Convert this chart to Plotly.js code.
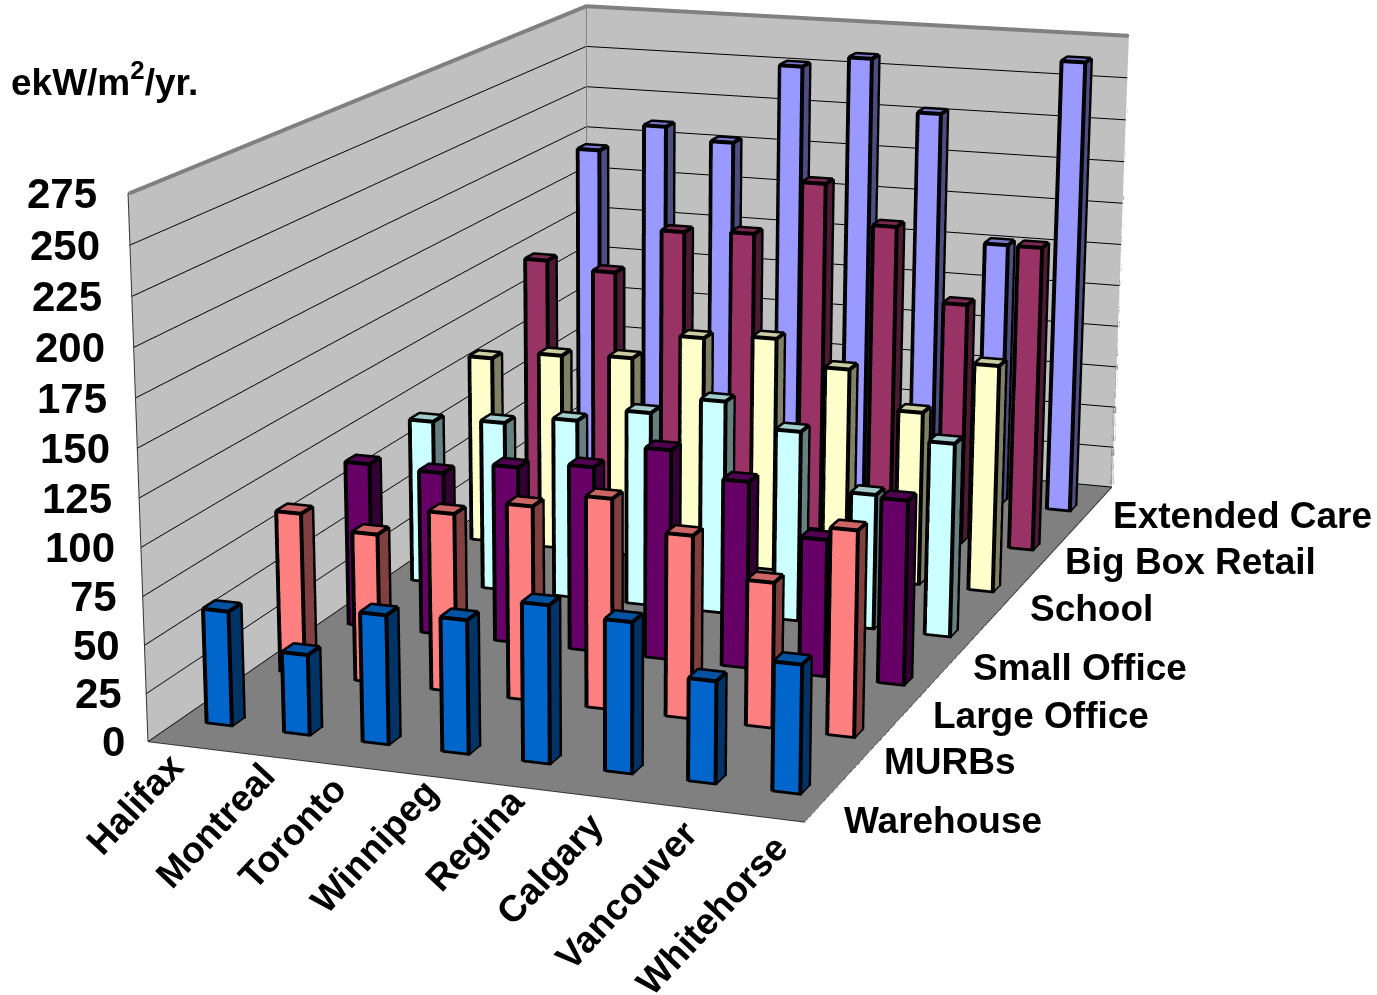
<!DOCTYPE html>
<html>
<head>
<meta charset="utf-8">
<title>Energy intensity by city and building type</title>
<script src="https://cdn.plot.ly/plotly-3.0.1.min.js"></script>
<style>
  html, body { margin: 0; padding: 0; width: 1377px; height: 995px; overflow: hidden; background: #fff; }
  #view { position: absolute; left: 0; top: 0; width: 1377px; height: 995px; overflow: hidden; }
  /* The scene is oversized and shifted so its fixed 45 degree lens behaves like a long one. */
  #chart { position: absolute; left: -143px; top: -1055px; width: 1520px; height: 3327px; }
</style>
</head>
<body>
<div id="view"><div id="chart"></div></div>
<script>
const cities = ['Halifax', 'Montreal', 'Toronto', 'Winnipeg', 'Regina', 'Calgary', 'Vancouver', 'Whitehorse'];
const buildingTypes = ['Warehouse', 'MURBs', 'Large Office', 'Small Office', 'School', 'Big Box Retail', 'Extended Care'];
const warehouse    = [60, 42, 67, 69, 81, 77, 52, 65];
const murbs        = [87, 80, 95, 103, 111, 96, 76, 107];
const largeOffice  = [91, 90, 97, 101, 114, 101, 74, 99];
const smallOffice  = [93, 96, 101, 109, 119, 106, 75, 107];
const school       = [109, 114, 116, 131, 134, 120, 99, 129];
const bigBoxRetail = [148, 144, 171, 173, 205, 183, 141, 177];
const extendedCare = [198, 215, 208, 256, 263, 233, 158, 268];
const tickValues = [0, 25, 50, 75, 100, 125, 150, 175, 200, 225, 250, 275];
const unitLabel = 'ekW/m<sup>2</sup>/yr.';

const seriesValues = [warehouse, murbs, largeOffice, smallOffice, school, bigBoxRetail, extendedCare];
const frontColors = ['#0066CC', '#FF8080', '#660066', '#CCFFFF', '#FFFFCC', '#993366', '#9999FF'];
const sideColors  = ['#003366', '#804040', '#330033', '#668080', '#808066', '#4D1A33', '#4D4D80'];
const topColors   = ['#0052A3', '#CC6666', '#520052', '#A3CCCC', '#CCCCA3', '#7A2952', '#7A7ACC'];

const BAR_HALF_X = 0.16;
const BAR_HALF_Y = 0.075;
const TEXT_FONT = 'Liberation Sans, Arial, sans-serif';

// Bars sit a little forward of their cell centres, more so in the rear rows.
const barCentreX = (col, row) => col + 0.5 + 0.025 + 0.0088 * row;
const barCentreY = row => row + 0.5 - 0.03 - 0.015 * row;

// Solid box per bar, one mesh per building type, flat coloured by face.
function barMesh(values, row, colors) {
  const x = [], y = [], z = [], i = [], j = [], k = [], facecolor = [];
  const quads = [
    [0, 1, 5, 4, colors.front], [2, 3, 7, 6, colors.front],
    [1, 2, 6, 5, colors.side],  [0, 3, 7, 4, colors.side],
    [4, 5, 6, 7, colors.top],   [0, 1, 2, 3, colors.top]
  ];
  values.forEach((v, col) => {
    const base = x.length;
    const x0 = barCentreX(col, row) - BAR_HALF_X, x1 = barCentreX(col, row) + BAR_HALF_X;
    const y0 = barCentreY(row) - BAR_HALF_Y, y1 = barCentreY(row) + BAR_HALF_Y;
    [[x0, y0, 0], [x1, y0, 0], [x1, y1, 0], [x0, y1, 0], [x0, y0, v], [x1, y0, v], [x1, y1, v], [x0, y1, v]]
      .forEach(p => { x.push(p[0]); y.push(p[1]); z.push(p[2]); });
    quads.forEach(q => {
      i.push(base + q[0], base + q[0]);
      j.push(base + q[1], base + q[2]);
      k.push(base + q[2], base + q[3]);
      facecolor.push(q[4], q[4]);
    });
  });
  return {
    type: 'mesh3d', x, y, z, i, j, k, facecolor, flatshading: true, hoverinfo: 'skip', showscale: false,
    lighting: { ambient: 1, diffuse: 0, specular: 0, fresnel: 0, roughness: 1 }
  };
}

// Black outline of every bar, nudged outward so it stays in front of the faces.
function barEdges() {
  const x = [], y = [], z = [];
  const e = 0.004;
  seriesValues.forEach((values, row) => values.forEach((v, col) => {
    const x0 = barCentreX(col, row) - BAR_HALF_X - e, x1 = barCentreX(col, row) + BAR_HALF_X + e;
    const y0 = barCentreY(row) - BAR_HALF_Y - e, y1 = barCentreY(row) + BAR_HALF_Y + e;
    const t = v + 0.2;
    const path = [[x0, y0, 0.1], [x1, y0, 0.1], [x1, y0, t], [x0, y0, t], [x0, y0, 0.1], null,
                  [x1, y0, 0.1], [x1, y1, 0.1], [x1, y1, t], [x1, y0, t], null,
                  [x1, y1, t], [x0, y1, t], [x0, y0, t], null];
    path.forEach(p => {
      x.push(p ? p[0] : null); y.push(p ? p[1] : null); z.push(p ? p[2] : null);
    });
  }));
  return { type: 'scatter3d', mode: 'lines', x, y, z, line: { color: '#000', width: 8 }, hoverinfo: 'skip', showlegend: false };
}

function polyline(points, color, width) {
  return {
    type: 'scatter3d', mode: 'lines', hoverinfo: 'skip', showlegend: false,
    x: points.map(p => p[0]), y: points.map(p => p[1]), z: points.map(p => p[2]),
    line: { color, width }
  };
}

const nCols = cities.length, nRows = buildingTypes.length, zTop = tickValues[tickValues.length - 1];

const traces = seriesValues.map((values, row) => barMesh(values, row, {
  front: frontColors[row], side: sideColors[row], top: topColors[row]
}));
traces.push(barEdges());
// Wall rims, corner lines and the front edges of the floor; rims stand just proud of the walls
const proud = 0.015;
traces.push(polyline([[proud, 0, zTop], [proud, nRows - proud, zTop], [nCols, nRows - proud, zTop], [nCols, nRows - proud, 0]], '#808080', 8));
traces.push(polyline([[proud, nRows - proud, 0], [proud, nRows - proud, zTop]], '#808080', 2));
traces.push(polyline([[0, 0, 0], [0, 0, zTop]], '#333333', 2));
traces.push(polyline([[0, 0, 0], [nCols, 0, 0], [nCols, nRows, 0]], '#333333', 2));
// Tick marks beside the left wall
const tickMarkX = [], tickMarkY = [], tickMarkZ = [];
tickValues.forEach(v => { tickMarkX.push(-0.15, 0, null); tickMarkY.push(0, 0, null); tickMarkZ.push(v, v, null); });
traces.push({ type: 'scatter3d', mode: 'lines', x: tickMarkX, y: tickMarkY, z: tickMarkZ, line: { color: '#333', width: 2 }, hoverinfo: 'skip', showlegend: false });

const hiddenAxis = {
  showticklabels: false, ticks: '', showspikes: false, zeroline: false, showline: false, showgrid: false,
  title: { text: '' }, autorange: false
};

// Pixel nudges for the captions around the floor
const rowLabelShiftX = [9, -3, -3, -8, 8, 4, 16];
const rowLabelShiftY = [-29, -27, -34, -35, -21, -16, -10];
const cityLabelShiftX = [8, 20, 12, 22, 27, 23, 32, 36];
const cityLabelShiftY = [4, 4, 0, 7, 8, -6, -4, -8];

const sceneNotes = [];
tickValues.forEach(v => sceneNotes.push({
  x: 0, y: 0, z: v, text: String(v), showarrow: false, xanchor: 'right', yanchor: 'middle',
  xshift: -21 - v * 8 / zTop, yshift: 0, font: { family: TEXT_FONT, size: 42, color: '#000', weight: 700 }
}));
cities.forEach((name, col) => sceneNotes.push({
  x: col + 0.5, y: 0, z: 0, text: name, showarrow: false, textangle: -47, xanchor: 'right', yanchor: 'top',
  xshift: cityLabelShiftX[col], yshift: cityLabelShiftY[col], font: { family: TEXT_FONT, size: 37, color: '#000', weight: 700 }
}));
buildingTypes.forEach((name, row) => sceneNotes.push({
  x: nCols, y: row + 0.5, z: 0, text: name, showarrow: false, xanchor: 'left', yanchor: 'middle',
  xshift: rowLabelShiftX[row], yshift: rowLabelShiftY[row], font: { family: TEXT_FONT, size: 37, color: '#000', weight: 700 }
}));

const layout = {
  width: 1520, height: 3327, autosize: false,
  margin: { l: 0, r: 0, t: 0, b: 0 }, paper_bgcolor: '#fff', showlegend: false,
  annotations: [{
    xref: 'paper', yref: 'paper', x: 152 / 1520, y: 1 - (1055 + 80) / 3327, xanchor: 'left', yanchor: 'middle',
    text: unitLabel, showarrow: false, font: { family: TEXT_FONT, size: 37, color: '#000', weight: 700 }
  }],
  scene: {
    domain: { x: [0, 1], y: [0, 1] },
    aspectmode: 'manual', aspectratio: { x: 1, y: 1.846, z: 0.809 },
    camera: {
      projection: { type: 'perspective' },
      up: { x: -0.0027, y: -0.00098, z: 1 },
      eye: { x: 2.018, y: -5.891, z: 1.499 },
      center: { x: 0.070, y: -0.492, z: -0.267 }
    },
    xaxis: Object.assign({}, hiddenAxis, { range: [0, nCols], showbackground: true, backgroundcolor: '#C0C0C0' }),
    yaxis: Object.assign({}, hiddenAxis, { range: [0, nRows], showbackground: true, backgroundcolor: '#C0C0C0' }),
    zaxis: Object.assign({}, hiddenAxis, {
      range: [0, zTop], showbackground: true, backgroundcolor: '#808080',
      showgrid: true, gridcolor: '#000000', gridwidth: 2, tickmode: 'array', tickvals: tickValues
    }),
    annotations: sceneNotes
  }
};

Plotly.newPlot('chart', traces, layout, { displayModeBar: false, responsive: false });
</script>
</body>
</html>
